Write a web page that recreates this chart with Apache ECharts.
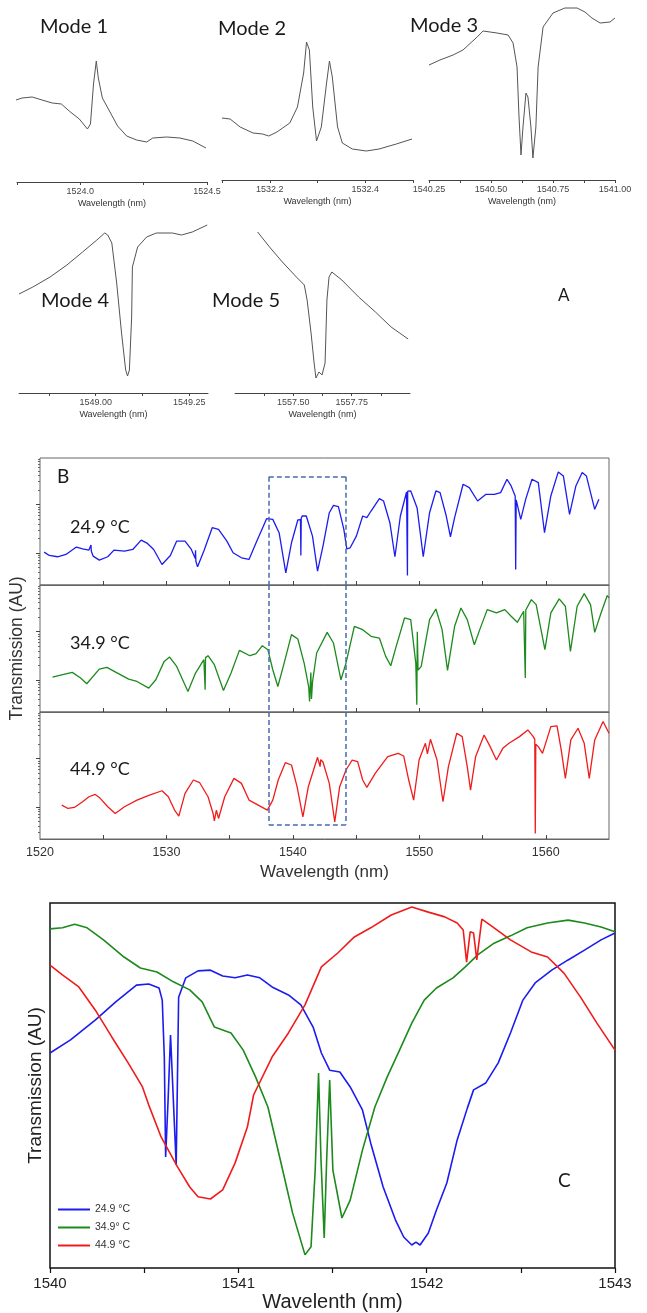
<!DOCTYPE html>
<html><head><meta charset="utf-8">
<script src="https://cdn.jsdelivr.net/npm/echarts@6/dist/echarts.min.js"></script>
<style>html,body{margin:0;padding:0;background:#fff}#c{width:647px;height:1313px}</style>
</head><body><div id="c"></div>
<script>
// ---------- Panel A: individual modes (wavelength nm, transmission AU) ----------
const mode1 = [[1523.746,0.82],[1523.770,0.84],[1523.810,0.85],[1523.849,0.82],[1523.889,0.79],[1523.925,0.78],[1523.956,0.71],[1523.996,0.63],[1524.028,0.53],[1524.040,0.58],[1524.052,0.98],[1524.063,1.21],[1524.071,1.04],[1524.087,0.84],[1524.115,0.71],[1524.147,0.56],[1524.183,0.46],[1524.222,0.42],[1524.262,0.40],[1524.286,0.44],[1524.341,0.45],[1524.393,0.44],[1524.444,0.41],[1524.496,0.34]];
const mode2 = [[1532.100,0.62],[1532.117,0.61],[1532.138,0.53],[1532.165,0.47],[1532.185,0.46],[1532.198,0.44],[1532.215,0.48],[1532.242,0.57],[1532.258,0.73],[1532.271,1.07],[1532.277,1.38],[1532.283,1.30],[1532.290,0.73],[1532.298,0.39],[1532.308,0.53],[1532.319,0.97],[1532.325,1.19],[1532.331,1.03],[1532.342,0.53],[1532.352,0.37],[1532.373,0.31],[1532.402,0.29],[1532.429,0.31],[1532.465,0.36],[1532.498,0.41]];
const mode3 = [[1540.250,1.15],[1540.294,1.20],[1540.347,1.25],[1540.387,1.30],[1540.444,1.43],[1540.468,1.49],[1540.524,1.47],[1540.569,1.45],[1540.589,1.37],[1540.605,1.13],[1540.613,0.63],[1540.621,0.25],[1540.629,0.53],[1540.641,0.87],[1540.649,0.83],[1540.661,0.53],[1540.669,0.22],[1540.681,0.53],[1540.690,1.13],[1540.710,1.53],[1540.750,1.67],[1540.798,1.72],[1540.847,1.72],[1540.879,1.68],[1540.907,1.62],[1540.940,1.57],[1540.980,1.58],[1541.000,1.62]];
const mode4 = [[1548.795,0.99],[1548.832,1.06],[1548.878,1.16],[1548.923,1.28],[1548.965,1.41],[1549.003,1.53],[1549.024,1.60],[1549.032,1.58],[1549.043,1.50],[1549.056,1.10],[1549.069,0.60],[1549.080,0.23],[1549.085,0.17],[1549.090,0.23],[1549.096,0.76],[1549.098,1.26],[1549.112,1.46],[1549.136,1.56],[1549.162,1.60],[1549.205,1.60],[1549.229,1.58],[1549.258,1.61],[1549.298,1.68]];
const mode5 = [[1557.347,1.61],[1557.398,1.46],[1557.453,1.31],[1557.513,1.16],[1557.547,1.08],[1557.559,0.93],[1557.576,0.60],[1557.589,0.30],[1557.597,0.15],[1557.610,0.21],[1557.623,0.18],[1557.636,0.30],[1557.644,0.93],[1557.653,1.16],[1557.665,1.21],[1557.708,1.13],[1557.780,0.96],[1557.852,0.81],[1557.919,0.66],[1557.992,0.54]];
const modeNames = ['Mode 1','Mode 2','Mode 3','Mode 4','Mode 5'];
const modeRanges = [[1523.75,1524.5],[1532.1,1532.5],[1540.25,1541.0],[1548.795,1549.30],[1557.25,1558.0]];
const modeTicks = [[1523.75,1524.0,1524.25,1524.5],[1532.1,1532.2,1532.3,1532.4,1532.5],[1540.25,1540.375,1540.5,1540.625,1540.75,1540.875,1541.0],[1548.875,1549.0,1549.125,1549.25],[1557.375,1557.5,1557.625,1557.75,1557.875]];
const modeLabels = [[1524.0,1524.5],[1532.2,1532.4],[1540.25,1540.5,1540.75,1541.0],[1549.0,1549.25],[1557.5,1557.75]];
const modeDecimals = [1,1,2,2,2];

// ---------- Panel B: full spectra (nm, log transmission in dB, arbitrary offset) ----------
const specB249 = [[1520.33,0.14],[1520.73,-0.56],[1521.39,-0.83],[1522.05,-0.35],[1522.88,1.18],[1523.37,0.83],[1523.87,0.56],[1524.0,0.5],[1524.03,1.6],[1524.06,0.3],[1524.2,-0.69],[1524.69,-1.53],[1525.36,-0.83],[1525.85,0.56],[1526.68,0.35],[1527.34,0.69],[1528.0,2.64],[1528.5,1.94],[1528.99,0.69],[1529.65,-2.43],[1530.31,-0.56],[1530.81,2.43],[1531.47,2.43],[1531.97,0.69],[1532.28,-1.2],[1532.3,0.5],[1532.33,-1.8],[1532.46,-2.92],[1532.96,0.35],[1533.62,5.21],[1534.12,4.86],[1534.78,2.43],[1535.27,0],[1535.93,-1.04],[1536.53,-1.39],[1537.09,2.08],[1537.92,7.08],[1538.41,6.94],[1538.91,4.17],[1539.44,-4.17],[1539.89,2.08],[1540.39,6.81],[1540.6,6.9],[1540.63,-0.56],[1540.66,7.2],[1540.73,7.64],[1541.06,7.64],[1541.55,3.47],[1541.95,-3.82],[1542.38,1.39],[1542.88,8.33],[1543.21,9.86],[1543.6,9.58],[1544.03,4.86],[1544.26,0.83],[1544.53,1.04],[1545.02,3.47],[1545.52,7.64],[1545.85,7.29],[1546.18,8.68],[1546.84,11.25],[1547.17,10.76],[1547.67,6.25],[1548.07,-0.83],[1548.5,7.64],[1548.99,12.64],[1549.04,12.7],[1549.06,-4.72],[1549.08,12.8],[1549.32,12.85],[1549.82,9.38],[1550.31,-0.83],[1550.81,8.33],[1551.31,12.85],[1551.64,12.5],[1552.13,7.64],[1552.46,3.33],[1552.79,7.29],[1553.46,14.24],[1553.95,13.54],[1554.61,10.76],[1555.27,12.15],[1555.93,12.15],[1556.43,12.5],[1556.93,15.28],[1557.26,13.89],[1557.58,11.81],[1557.62,-3.47],[1557.66,11.0],[1558.02,6.94],[1558.41,11.11],[1558.91,15.28],[1559.41,14.58],[1559.9,4.17],[1560.4,11.81],[1560.99,16.81],[1561.39,15.97],[1561.88,7.99],[1562.38,13.89],[1562.88,16.67],[1563.21,15.97],[1563.87,9.03],[1564.2,11.11]];
const specB349 = [[1520.99,0.56],[1521.72,1.04],[1522.55,1.53],[1523.21,0.35],[1523.7,-0.83],[1524.69,2.22],[1525.29,2.57],[1526.02,1.53],[1527.01,0.14],[1527.67,-0.35],[1528.6,-1.74],[1529.16,0],[1529.82,3.82],[1530.25,4.72],[1530.81,2.78],[1531.7,-2.43],[1532.3,1.39],[1532.96,4.17],[1533.03,4.3],[1533.06,-2.08],[1533.09,4.6],[1533.29,5.0],[1533.79,3.13],[1534.51,-2.22],[1535.11,1.39],[1535.77,6.11],[1536.6,5.0],[1537.09,5.42],[1537.59,7.08],[1538.02,6.25],[1538.41,2.08],[1538.81,-1.39],[1539.24,2.78],[1539.89,9.38],[1540.39,8.47],[1540.89,3.47],[1541.25,-1.5],[1541.32,-4.51],[1541.42,1.5],[1541.47,-4.0],[1541.55,-0.5],[1541.88,5.56],[1542.71,9.86],[1543.21,7.64],[1543.8,0],[1544.2,3.47],[1544.86,11.11],[1545.52,10.42],[1546.18,9.03],[1546.84,8.68],[1547.34,4.86],[1547.74,2.92],[1548.17,6.94],[1548.83,12.85],[1549.32,12.5],[1549.72,3.47],[1549.8,-5.21],[1549.84,10.0],[1549.9,2.0],[1550.15,2.78],[1550.81,12.5],[1551.31,14.72],[1551.8,10.42],[1552.23,1.94],[1552.79,11.11],[1553.29,14.93],[1553.79,12.5],[1554.35,7.29],[1554.78,10.42],[1555.37,14.58],[1556.1,13.89],[1556.76,14.58],[1557.26,13.19],[1557.75,11.94],[1558.25,14.24],[1558.34,14.0],[1558.38,0.35],[1558.42,14.5],[1558.86,16.67],[1559.24,15.63],[1559.93,6.25],[1560.4,13.89],[1561.06,16.81],[1561.55,15.28],[1561.95,5.9],[1562.48,15.28],[1563.04,17.92],[1563.54,15.63],[1563.87,9.86],[1564.37,13.89],[1564.86,17.5],[1565.0,17.01]];
const specB449 = [[1521.72,0.35],[1522.21,-0.35],[1522.71,-0.14],[1523.37,1.04],[1523.87,2.08],[1524.36,2.57],[1524.69,1.94],[1525.36,0],[1525.95,-1.39],[1526.68,0],[1527.67,1.39],[1528.66,2.43],[1529.65,3.33],[1530.15,2.08],[1530.64,-0.69],[1530.98,-1.94],[1531.47,2.78],[1532.13,5.56],[1532.63,5.0],[1533.29,2.08],[1533.69,-1.39],[1533.79,-2.92],[1533.95,-0.69],[1534.12,-2.43],[1534.61,2.08],[1535.34,5.9],[1535.93,4.86],[1536.53,1.39],[1537.26,0.35],[1537.98,-0.69],[1538.41,1.39],[1538.84,5.56],[1539.4,9.17],[1539.89,8.68],[1540.33,4.17],[1540.79,-2.08],[1541.22,4.17],[1541.95,10.28],[1542.15,8.33],[1542.2,9.8],[1542.38,9.31],[1542.88,4.86],[1543.31,-3.13],[1543.7,4.17],[1544.2,7.64],[1544.69,9.72],[1545.12,9.38],[1545.52,5.56],[1545.85,4.03],[1546.51,6.94],[1547.5,10.42],[1548.33,11.11],[1548.76,10.56],[1549.16,5.56],[1549.55,1.39],[1549.98,9.72],[1550.48,13.19],[1550.64,11.0],[1550.88,14.03],[1551.4,9.72],[1551.87,1.04],[1552.3,8.33],[1552.96,15.28],[1553.39,14.58],[1553.79,8.33],[1554.05,3.47],[1554.45,10.42],[1555.12,14.93],[1555.6,12.5],[1556.1,9.72],[1556.6,12.15],[1557.09,13.19],[1557.92,14.58],[1558.58,15.97],[1559.01,14.58],[1559.13,14.0],[1559.17,-5.56],[1559.21,13.0],[1559.41,12.5],[1559.74,11.11],[1560.4,16.67],[1560.89,16.81],[1561.22,11.81],[1561.55,5.9],[1561.98,13.89],[1562.55,16.32],[1563.04,13.19],[1563.44,5.9],[1563.87,13.89],[1564.53,17.71],[1565.0,15.28]];
const bXLabels = [1520,1530,1540,1550,1560];
const bXTicks = [1525,1530,1535,1540,1545,1550,1555,1560];
const bMajorTicks = [0,10];
const bMinorTicks = [-5.23,-3.98,-3.01,-2.22,-1.55,-0.97,-0.46,3.01,4.77,6.02,6.99,7.78,8.45,9.03,9.54,13.01,14.77,16.02,16.99,17.78,18.45,19.03,19.54];
const boxX = [1538.1,1544.2];   // dashed zoom window
const boxY = [15.8,-3.7];
const tempLabels = ['24.9 °C','34.9 °C','44.9 °C'];

// ---------- Panel C: zoomed window (nm, normalised transmission) ----------
const specC249 = [[1540.000,0.589],[1540.109,0.625],[1540.240,0.679],[1540.349,0.729],[1540.459,0.775],[1540.524,0.778],[1540.579,0.767],[1540.596,0.734],[1540.607,0.578],[1540.614,0.304],[1540.627,0.46],[1540.640,0.638],[1540.655,0.46],[1540.670,0.282],[1540.683,0.742],[1540.721,0.795],[1540.786,0.814],[1540.852,0.816],[1540.917,0.800],[1540.983,0.795],[1541.048,0.803],[1541.114,0.795],[1541.179,0.770],[1541.266,0.748],[1541.332,0.721],[1541.397,0.660],[1541.441,0.589],[1541.485,0.542],[1541.539,0.537],[1541.594,0.496],[1541.659,0.433],[1541.703,0.342],[1541.769,0.222],[1541.834,0.132],[1541.878,0.085],[1541.921,0.063],[1541.943,0.071],[1541.965,0.063],[1542.009,0.096],[1542.052,0.159],[1542.107,0.233],[1542.162,0.351],[1542.216,0.438],[1542.249,0.488],[1542.314,0.507],[1542.380,0.562],[1542.445,0.644],[1542.511,0.734],[1542.576,0.781],[1542.664,0.816],[1542.751,0.844],[1542.838,0.871],[1542.926,0.899],[1543.000,0.918]];
const specC349 = [[1540.000,0.929],[1540.066,0.932],[1540.131,0.942],[1540.197,0.932],[1540.284,0.899],[1540.393,0.852],[1540.480,0.822],[1540.568,0.811],[1540.655,0.784],[1540.742,0.762],[1540.808,0.729],[1540.873,0.660],[1540.961,0.644],[1541.026,0.597],[1541.092,0.523],[1541.157,0.441],[1541.223,0.296],[1541.288,0.151],[1541.354,0.036],[1541.386,0.058],[1541.408,0.268],[1541.426,0.534],[1541.439,0.296],[1541.456,0.082],[1541.469,0.296],[1541.485,0.515],[1541.502,0.268],[1541.550,0.137],[1541.594,0.186],[1541.659,0.323],[1541.725,0.441],[1541.790,0.523],[1541.856,0.597],[1541.921,0.671],[1541.987,0.734],[1542.052,0.767],[1542.140,0.795],[1542.205,0.825],[1542.271,0.858],[1542.358,0.890],[1542.445,0.910],[1542.533,0.932],[1542.642,0.945],[1542.751,0.953],[1542.838,0.945],[1542.926,0.934],[1543.000,0.921]];
const specC449 = [[1540.000,0.830],[1540.066,0.803],[1540.153,0.770],[1540.240,0.707],[1540.328,0.633],[1540.415,0.562],[1540.491,0.496],[1540.524,0.447],[1540.590,0.359],[1540.677,0.277],[1540.742,0.222],[1540.786,0.195],[1540.852,0.189],[1540.917,0.214],[1540.983,0.288],[1541.048,0.386],[1541.081,0.474],[1541.179,0.578],[1541.266,0.644],[1541.354,0.721],[1541.441,0.825],[1541.528,0.863],[1541.616,0.907],[1541.703,0.932],[1541.812,0.967],[1541.921,0.989],[1542.009,0.975],[1542.096,0.962],[1542.162,0.945],[1542.194,0.926],[1542.212,0.838],[1542.231,0.921],[1542.249,0.918],[1542.266,0.844],[1542.293,0.956],[1542.358,0.932],[1542.445,0.899],[1542.555,0.866],[1542.642,0.852],[1542.729,0.808],[1542.817,0.742],[1542.904,0.671],[1543.000,0.597]];
const cXLabels = [1540,1541,1542,1543];
const cXTicks = [1540,1540.5,1541,1541.5,1542,1542.5,1543];
const cLegend = ['24.9 °C','34.9° C','44.9 °C'];

const COLORS = ['#1c1cf0','#1c8a1c','#f01c1c'];
const FONT = '"Liberation Sans", Arial, sans-serif';
const TFONT = 'Lato, "Open Sans", sans-serif';

const modeData = [mode1, mode2, mode3, mode4, mode5];
const modeGrids = [
  {left:17, top:0, width:190, height:182},
  {left:222, top:0, width:191, height:180},
  {left:429, top:0, width:186, height:180},
  {left:19, top:200, width:189, height:193},
  {left:235, top:200, width:175, height:193}
];
const grids = modeGrids.map(g => Object.assign({show:false}, g));
grids.push({left:40, top:458, width:569, height:127, show:true, borderColor:'#666', borderWidth:1});
grids.push({left:40, top:585, width:569, height:127, show:true, borderColor:'#666', borderWidth:1});
grids.push({left:40, top:712, width:569, height:127, show:true, borderColor:'#666', borderWidth:1});
grids.push({left:50, top:903, width:565, height:365, show:true, borderColor:'#111', borderWidth:1.5});

const xAxes = [], yAxes = [], series = [];
modeData.forEach((d, i) => {
  xAxes.push({type:'value', gridIndex:i, min:modeRanges[i][0], max:modeRanges[i][1],
    axisLine:{show:true, onZero:false, lineStyle:{color:'#444', width:1}},
    axisTick:{show:true, inside:false, length:3, customValues:modeTicks[i], lineStyle:{color:'#444'}},
    axisLabel:{show:true, customValues:modeLabels[i], formatter:v => Number(v).toFixed(modeDecimals[i]), fontSize:9, color:'#444', margin:5, fontFamily:FONT},
    splitLine:{show:false},
    name:'Wavelength (nm)', nameLocation:'middle', nameGap:17, nameTextStyle:{fontSize:9, color:'#333', fontFamily:FONT}});
  yAxes.push({type:'value', gridIndex:i, min:0, max:modeGrids[i].height/100, show:false});
  series.push({type:'line', name:modeNames[i], xAxisIndex:i, yAxisIndex:i, data:d, showSymbol:false, silent:true,
    lineStyle:{color:'#555', width:1}, color:'#555'});
});

// Panel B axes
const bSeries = [specB249, specB349, specB449];
for (let k = 0; k < 3; k++) {
  const gi = 5 + k;
  xAxes.push({type:'value', gridIndex:gi, min:1520, max:1565,
    axisLine:{show:true, onZero:false, lineStyle:{color:'#666'}},
    axisTick:{show:true, inside:true, length:4, customValues:bXTicks, lineStyle:{color:'#444'}},
    axisLabel:{show:k===2, customValues:bXLabels, formatter:v => String(v), fontSize:12.5, color:'#333', margin:7, fontFamily:FONT},
    splitLine:{show:false},
    name:k===2 ? 'Wavelength (nm)' : '', nameLocation:'middle', nameGap:25, nameTextStyle:{fontSize:17, color:'#333', fontFamily:FONT}});
}
for (let k = 0; k < 3; k++) {
  const gi = 5 + k;
  yAxes.push({type:'value', gridIndex:gi, position:'left', min:-6.7, max:19.7,
    axisLine:{show:false}, axisTick:{show:true, inside:false, length:4, customValues:bMajorTicks, lineStyle:{color:'#444'}},
    axisLabel:{show:false}, splitLine:{show:false},
    name:k===1 ? 'Transmission (AU)' : '', nameLocation:'middle', nameGap:14, nameTextStyle:{fontSize:17.5, color:'#333', fontFamily:FONT}});
}
for (let k = 0; k < 3; k++) {
  const gi = 5 + k;
  yAxes.push({type:'value', gridIndex:gi, position:'left', min:-6.7, max:19.7,
    axisLine:{show:false}, axisTick:{show:true, inside:false, length:2, customValues:bMinorTicks, lineStyle:{color:'#666'}},
    axisLabel:{show:false}, splitLine:{show:false}});
}
const dash = {color:'#4a6bb0', width:1.5, type:[5,3]};
const boxLines = [
  [ [{coord:[boxX[0],boxY[0]]},{coord:[boxX[1],boxY[0]]}], [{coord:[boxX[0],boxY[0]]},{coord:[boxX[0],-6.7]}], [{coord:[boxX[1],boxY[0]]},{coord:[boxX[1],-6.7]}] ],
  [ [{coord:[boxX[0],19.7]},{coord:[boxX[0],-6.7]}], [{coord:[boxX[1],19.7]},{coord:[boxX[1],-6.7]}] ],
  [ [{coord:[boxX[0],boxY[1]]},{coord:[boxX[1],boxY[1]]}], [{coord:[boxX[0],19.7]},{coord:[boxX[0],boxY[1]]}], [{coord:[boxX[1],19.7]},{coord:[boxX[1],boxY[1]]}] ]
];
bSeries.forEach((d, k) => {
  series.push({type:'line', name:'B ' + tempLabels[k], xAxisIndex:5 + k, yAxisIndex:5 + k, data:d, showSymbol:false, silent:true,
    color:COLORS[k], lineStyle:{color:COLORS[k], width:1.3},
    markLine:{silent:true, symbol:['none','none'], label:{show:false}, lineStyle:dash, data:boxLines[k]}});
});

// Panel C axes
const cX = xAxes.length;
xAxes.push({type:'value', gridIndex:8, min:1540, max:1543,
  axisLine:{show:false, onZero:false},
  axisTick:{show:true, inside:false, length:5, customValues:cXTicks, lineStyle:{color:'#111', width:1.2}},
  axisLabel:{show:true, customValues:cXLabels, formatter:v => String(v), fontSize:15, color:'#222', margin:8, fontFamily:FONT},
  splitLine:{show:false},
  name:'Wavelenth (nm)', nameLocation:'middle', nameGap:24, nameTextStyle:{fontSize:20, color:'#222', fontFamily:FONT}});
const cY = yAxes.length;
yAxes.push({type:'value', gridIndex:8, min:0, max:1, axisLine:{show:false}, axisTick:{show:false}, axisLabel:{show:false}, splitLine:{show:false},
  name:'Transmission (AU)', nameLocation:'middle', nameGap:5, nameTextStyle:{fontSize:19, color:'#222', fontFamily:FONT}});
[specC249, specC349, specC449].forEach((d, k) => {
  series.push({type:'line', name:cLegend[k], xAxisIndex:cX, yAxisIndex:cY, data:d, showSymbol:false, silent:true,
    color:COLORS[k], lineStyle:{color:COLORS[k], width:1.6}});
});

const txt = (t, x, y, size) => ({type:'text', left:x, top:y, silent:true,
  style:{text:t, fontSize:size, fill:'#1a1a1a', fontFamily:TFONT}});

const option = {
  animation:false,
  backgroundColor:'#fff',
  grid:grids, xAxis:xAxes, yAxis:yAxes, series:series,
  legend:{data:cLegend, orient:'vertical', left:53, top:1199, itemWidth:32, itemHeight:2, icon:'rect', itemGap:7,
    textStyle:{fontSize:10.5, color:'#333', fontFamily:FONT}},
  graphic:[
    txt('Mode 1', 40, 17, 20), txt('Mode 2', 218, 19, 20), txt('Mode 3', 410, 16, 20),
    txt('Mode 4', 41, 291, 20), txt('Mode 5', 212, 291, 20), txt('A', 558, 287, 17),
    txt('B', 57, 467, 19),
    txt(tempLabels[0], 70, 518, 18), txt(tempLabels[1], 70, 634, 18), txt(tempLabels[2], 70, 760, 18),
    txt('C', 558, 1171, 19)
  ]
};
const chart = echarts.init(document.getElementById('c'), null, {renderer:'canvas'});
chart.setOption(option);
</script></body></html>
